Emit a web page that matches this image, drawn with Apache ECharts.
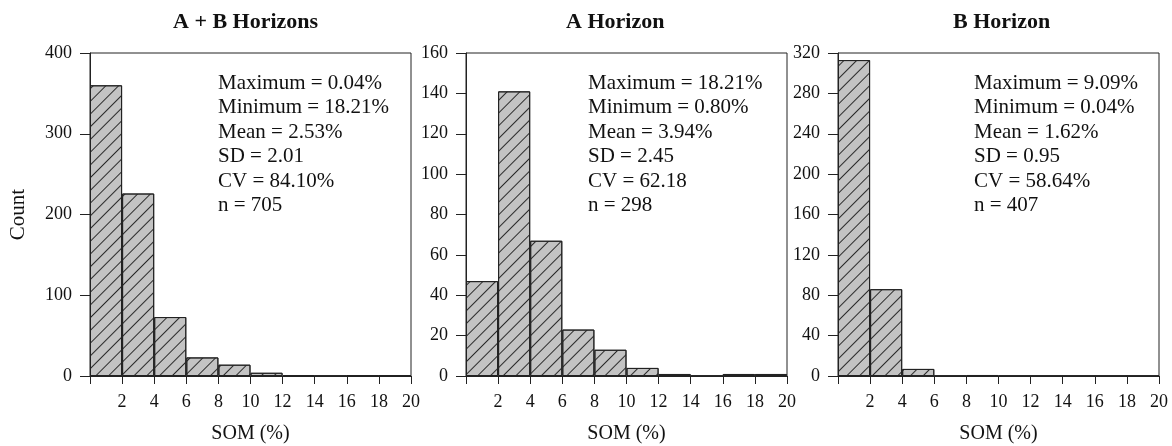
<!DOCTYPE html>
<html>
<head>
<meta charset="utf-8">
<script src="https://cdn.jsdelivr.net/npm/echarts@6/dist/echarts.min.js"></script>
<style>
html,body{margin:0;padding:0;background:#fff;}
#chart{width:1172px;height:446px;}
</style>
</head>
<body>
<div id="chart"></div>
<script>
// Bin edges (SOM %) and counts per bin
var binStarts = [0, 2, 4, 6, 8, 10, 12, 14, 16, 18];
var binWidth = 2;
var countsAB = [360, 226, 73, 23, 14, 4, 1, 0, 1, 1];
var countsA  = [47, 141, 67, 23, 13, 4, 1, 0, 1, 1];
var countsB  = [313, 86, 7, 0, 1, 0, 0, 0, 0, 0];

var panelTitles = ['A + B Horizons', 'A Horizon', 'B Horizon'];
var statsAB = ['Maximum = 0.04%', 'Minimum = 18.21%', 'Mean = 2.53%', 'SD = 2.01', 'CV = 84.10%', 'n = 705'];
var statsA  = ['Maximum = 18.21%', 'Minimum = 0.80%', 'Mean = 3.94%', 'SD = 2.45', 'CV = 62.18', 'n = 298'];
var statsB  = ['Maximum = 9.09%', 'Minimum = 0.04%', 'Mean = 1.62%', 'SD = 0.95', 'CV = 58.64%', 'n = 407'];

var yMaxes = [400, 160, 320];
var yIntervals = [100, 20, 40];
var xLabel = 'SOM (%)';
var yLabel = 'Count';

var FONT = '"Liberation Serif", "Times New Roman", serif';
var grids = [
  {left: 90, top: 53, width: 321, height: 323},
  {left: 466, top: 53, width: 321, height: 323},
  {left: 838, top: 53, width: 321, height: 323}
];
var allCounts = [countsAB, countsA, countsB];
var allStats = [statsAB, statsA, statsB];
var statsLeft = [218, 588, 974];
var titleLeft = [173, 566, 953];

function toData(counts){
  return counts.map(function(c, i){ return [binStarts[i] + binWidth/2, c]; });
}

var option = {
  animation: false,
  backgroundColor: '#fff',
  grid: grids.map(function(g){ return Object.assign({show: true, borderColor: '#222', borderWidth: 1, backgroundColor: 'transparent', containLabel: false, outerBoundsMode: 'none'}, g); }),
  xAxis: grids.map(function(g, i){
    return {
      type: 'value', gridIndex: i, min: 0, max: 20, interval: 2,
      name: xLabel, nameLocation: 'middle', nameGap: 48,
      nameTextStyle: {fontFamily: FONT, fontSize: 20, color: '#111'},
      axisLine: {show: true, lineStyle: {color: '#222', width: 1}},
      axisTick: {show: true, length: 8, lineStyle: {color: '#222'}},
      axisLabel: {fontFamily: FONT, fontSize: 18, color: '#111', margin: 17,
        formatter: function(v){ return v === 0 ? '' : String(v); }},
      splitLine: {show: false}
    };
  }),
  yAxis: grids.map(function(g, i){
    return {
      type: 'value', gridIndex: i, min: 0, max: yMaxes[i], interval: yIntervals[i],
      name: i === 0 ? yLabel : '', nameLocation: 'middle', nameGap: 61, nameRotate: 90,
      nameTextStyle: {fontFamily: FONT, fontSize: 21, color: '#111'},
      axisLine: {show: true, lineStyle: {color: '#222', width: 1}},
      axisTick: {show: true, length: 10, lineStyle: {color: '#222'}},
      axisLabel: {fontFamily: FONT, fontSize: 18, color: '#111', margin: 18},
      splitLine: {show: false}
    };
  }),
  series: allCounts.map(function(counts, i){
    return {
      type: 'bar', xAxisIndex: i, yAxisIndex: i,
      data: toData(counts),
      barWidth: '100%',
      itemStyle: {
        color: '#c3c3c3', borderColor: '#222', borderWidth: 1,
        decal: {symbol: 'rect', symbolSize: 1, color: '#2a2a2a', dashArrayX: [1, 0], dashArrayY: [1, 7.3], rotation: -Math.PI / 4}
      },
      emphasis: {disabled: true}
    };
  }),
  graphic: []
};

panelTitles.forEach(function(t, i){
  option.graphic.push({type: 'text', left: titleLeft[i], top: 11,
    style: {text: t, font: 'bold 22px ' + FONT, fill: '#111'}});
});
allStats.forEach(function(lines, i){
  option.graphic.push({type: 'text', left: statsLeft[i], top: 71,
    style: {text: lines.join('\n'), font: '21px ' + FONT, fill: '#111', lineHeight: 24.5}});
});

var chart = echarts.init(document.getElementById('chart'), null, {renderer: 'canvas'});
chart.setOption(option);
</script>
</body>
</html>
